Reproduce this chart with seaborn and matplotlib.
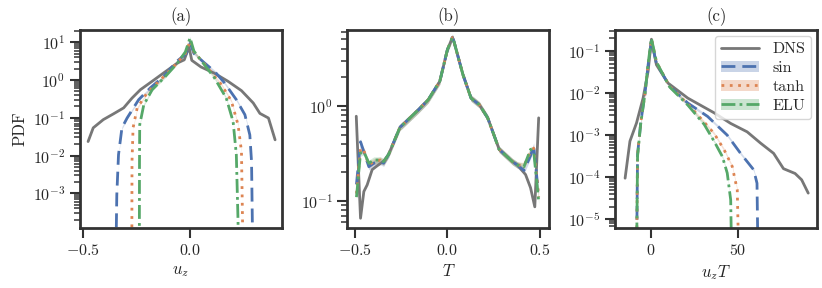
import matplotlib
matplotlib.use("Agg")
import matplotlib.pyplot as plt
import seaborn as sns
import numpy as np
import pandas as pd
from matplotlib.lines import Line2D
from matplotlib.patches import Patch
from matplotlib.ticker import NullFormatter, LogLocator

# ---- panel (a): u_z ----
a_dns_x = [-0.474, -0.45, -0.403, -0.356, -0.308, -0.269, -0.23, -0.175, -0.12, -0.057,
           -0.025, -0.003, 0.01, 0.053, 0.116, 0.179, 0.242, 0.297, 0.328, 0.368, 0.399]
a_dns_y = [0.0234, 0.054, 0.089, 0.126, 0.182, 0.33, 0.55, 0.92, 1.55, 2.8,
           3.4, 7.5, 3.3, 2.2, 1.5, 0.92, 0.52, 0.245, 0.13, 0.098, 0.026]
a_sin_x = [-0.345, -0.34, -0.332, -0.316, -0.292, -0.238, -0.183, -0.12, -0.057, -0.015,
           0.003, 0.02, 0.07, 0.12, 0.163, 0.218, 0.258, 0.281, 0.289, 0.293, 0.295]
a_sin_y = [1e-5, 9e-4, 0.0105, 0.054, 0.098, 0.30, 0.62, 1.26, 3.2, 5.0,
           9.4, 5.0, 2.8, 1.6, 0.83, 0.30, 0.12, 0.035, 0.0069, 1.4e-4, 1e-5]
a_tanh_x = [-0.27, -0.269, -0.264, -0.245, -0.198, -0.135, -0.073, -0.02, 0.003, 0.02,
            0.07, 0.148, 0.195, 0.226, 0.242, 0.247, 0.248]
a_tanh_y = [1e-5, 0.0069, 0.054, 0.18, 0.46, 1.02, 2.3, 5.0, 11.0, 5.5,
            2.6, 0.76, 0.275, 0.065, 0.0129, 1.8e-4, 1e-5]
a_elu_x = [-0.235, -0.234, -0.233, -0.214, -0.175, -0.112, -0.057, -0.02, 0.002, 0.02,
           0.116, 0.171, 0.203, 0.218, 0.226, 0.227]
a_elu_y = [1e-5, 0.0069, 0.065, 0.22, 0.55, 1.26, 2.8, 5.5, 13.0, 5.8,
           1.13, 0.33, 0.079, 0.0105, 1.8e-4, 1e-5]

# ---- panel (b): T ----
b_dns_x = [-0.493, -0.47, -0.452, -0.434, -0.407, -0.381, -0.345, -0.318, -0.256, -0.247,
           -0.157, -0.104, -0.041, 0.0, 0.027, 0.035, 0.084, 0.128, 0.173, 0.218,
           0.28, 0.352, 0.378, 0.423, 0.45, 0.473, 0.494]
b_dns_y = [0.78, 0.066, 0.126, 0.148, 0.214, 0.234, 0.263, 0.31, 0.60, 0.62,
           0.91, 1.16, 1.82, 3.9, 5.25, 4.8, 2.14, 1.21, 1.03, 0.75,
           0.35, 0.26, 0.24, 0.19, 0.138, 0.087, 0.75]
b_mid_x = [-0.318, -0.256, -0.247, -0.157, -0.104, -0.041, 0.0, 0.027, 0.035, 0.084,
           0.128, 0.173, 0.218, 0.28, 0.352, 0.378]
b_mid_y = [0.31, 0.60, 0.62, 0.91, 1.16, 1.82, 3.9, 5.25, 4.8, 2.14,
           1.21, 1.03, 0.75, 0.35, 0.26, 0.24]
b_left_x = [-0.492, -0.47, -0.452, -0.425, -0.398, -0.363, -0.345]
b_sin_left = [0.15, 0.42, 0.33, 0.23, 0.25, 0.26, 0.25]
b_tanh_left = [0.12, 0.36, 0.34, 0.24, 0.26, 0.27, 0.255]
b_elu_left = [0.11, 0.32, 0.33, 0.25, 0.27, 0.27, 0.26]
b_right_x = [0.414, 0.45, 0.467, 0.485, 0.494]
b_sin_right = [0.21, 0.30, 0.38, 0.17, 0.13]
b_tanh_right = [0.235, 0.33, 0.36, 0.17, 0.11]
b_elu_right = [0.23, 0.35, 0.33, 0.15, 0.10]

# ---- panel (c): u_z T ----
c_dns_x = [-15, -12.2, -8.4, -4.6, -1.7, 0.2, 3.1, 9.7, 21.2, 36.4,
           46, 55.5, 63.2, 70.8, 76.5, 83.2, 87, 90.8]
c_dns_y = [9.5e-5, 7.2e-4, 1.95e-3, 7.6e-3, 0.033, 0.19, 0.047, 0.0174, 0.0076, 0.0034,
           0.0019, 0.0012, 6.5e-4, 3.7e-4, 1.6e-4, 1.23e-4, 8.7e-5, 4.2e-5]
c_sin_x = [-8.4, -7.8, -5.9, -3.6, -1.7, 0.2, 3.1, 10.7, 21.2, 32.6, 44, 51.7, 59.3, 61.2, 61.8]
c_sin_y = [1e-6, 3.5e-4, 2.1e-3, 9.1e-3, 0.047, 0.17, 0.051, 0.0145, 0.0058, 0.0028,
           1.0e-3, 3.7e-4, 1.5e-4, 7.2e-5, 1e-6]
c_tanh_x = [-8.4, -7.8, -5.9, -3.6, -1.7, 0.3, 3.1, 10.7, 21.2, 30, 36.4, 42.2, 46.9, 49.8, 50.7]
c_tanh_y = [1e-6, 3.5e-4, 2.1e-3, 9.1e-3, 0.047, 0.19, 0.055, 0.0145, 0.0055, 0.0022,
            1.1e-3, 4.5e-4, 1.8e-4, 5e-5, 1e-6]
c_elu_x = [-8.4, -7.8, -5.9, -3.6, -1.7, 0.2, 3.1, 10.7, 21.2, 30.7, 36.4, 41.2, 44, 46, 46.6]
c_elu_y = [1e-6, 3.2e-4, 2e-3, 9e-3, 0.05, 0.2, 0.055, 0.014, 0.0052, 1.8e-3,
           7.2e-4, 3.1e-4, 1.26e-4, 2.9e-5, 1e-6]

labels = ["DNS", "sin", "tanh", "ELU"]
palette = sns.color_palette("deep")
colors = {"DNS": "#777777", "sin": palette[0], "tanh": palette[1], "ELU": palette[2]}
styles = {"DNS": "-", "sin": (0, (5, 2.5)), "tanh": (0, (1, 2)), "ELU": (0, (5, 1.5, 1, 1.5))}

sns.set_theme(style="ticks")
plt.rcParams["font.family"] = ["cmr10", "DejaVu Serif"]
plt.rcParams["mathtext.fontset"] = "cm"
plt.rcParams["axes.formatter.use_mathtext"] = True
plt.rcParams["font.size"] = 11.5
plt.rcParams["axes.linewidth"] = 2.0
plt.rcParams["axes.edgecolor"] = "0.2"

panels = [
    {"DNS": (a_dns_x, a_dns_y), "sin": (a_sin_x, a_sin_y),
     "tanh": (a_tanh_x, a_tanh_y), "ELU": (a_elu_x, a_elu_y)},
    {"DNS": (b_dns_x, b_dns_y),
     "sin": (b_left_x + b_mid_x + b_right_x, b_sin_left + b_mid_y + b_sin_right),
     "tanh": (b_left_x + b_mid_x + b_right_x, b_tanh_left + b_mid_y + b_tanh_right),
     "ELU": (b_left_x + b_mid_x + b_right_x, b_elu_left + b_mid_y + b_elu_right)},
    {"DNS": (c_dns_x, c_dns_y), "sin": (c_sin_x, c_sin_y),
     "tanh": (c_tanh_x, c_tanh_y), "ELU": (c_elu_x, c_elu_y)},
]

fig, axes = plt.subplots(1, 3, figsize=(8.22, 2.88), dpi=100)
fig.subplots_adjust(left=0.097, right=0.994, bottom=0.208, top=0.896, wspace=0.325)

titles = ["(a)", "(b)", "(c)"]
xlabels = [r"$u_z$", r"$T$", r"$u_zT$"]
xlims = [(-0.513, 0.43), (-0.541, 0.552), (-20.8, 95.9)]
ylims = [(1.2e-4, 21), (0.052, 6.3), (6.2e-6, 0.316)]
xticks = [[-0.5, 0.0], [-0.5, 0.0, 0.5], [0, 50]]

for ax, data, title, xl, xlim, ylim, xt in zip(axes, panels, titles, xlabels, xlims, ylims, xticks):
    for name in labels:
        x, y = data[name]
        df = pd.DataFrame({"x": x, "y": y})
        sns.lineplot(data=df, x="x", y="y", ax=ax, color=colors[name], lw=2.0,
                     linestyle=styles[name], sort=False, estimator=None)
        if name != "DNS":
            yy = np.array(y)
            ax.fill_between(x, yy / 1.08, yy * 1.08, color=colors[name], alpha=0.25, lw=0)
    ax.set_yscale("log")
    ax.set_xlim(*xlim)
    ax.set_ylim(*ylim)
    ax.set_xticks(xt)
    ax.yaxis.set_major_locator(LogLocator(base=10, numticks=15))
    ax.yaxis.set_minor_locator(LogLocator(base=10, subs=np.arange(2, 10), numticks=15))
    ax.yaxis.set_minor_formatter(NullFormatter())
    ax.tick_params(which="major", length=7, width=1.5, color="0.2", labelsize=11.5)
    ax.tick_params(which="minor", length=4, width=1.1, color="0.2")
    ax.set_title(title, fontsize=12)
    ax.set_xlabel(xl, fontsize=12)
    ax.set_ylabel("")

axes[0].set_ylabel("PDF", fontsize=12)

handles = []
for name in labels:
    line = Line2D([], [], color=colors[name], lw=2.0, linestyle=styles[name])
    if name == "DNS":
        handles.append(line)
    else:
        handles.append((Patch(color=colors[name], alpha=0.3, lw=0), line))
axes[2].legend(handles, labels, loc="upper right", fontsize=11.5, handlelength=2.4,
               borderaxespad=0.35, labelspacing=0.3, handletextpad=0.8,
               borderpad=0.4, framealpha=0.8)

fig.savefig("out.png", dpi=100)
